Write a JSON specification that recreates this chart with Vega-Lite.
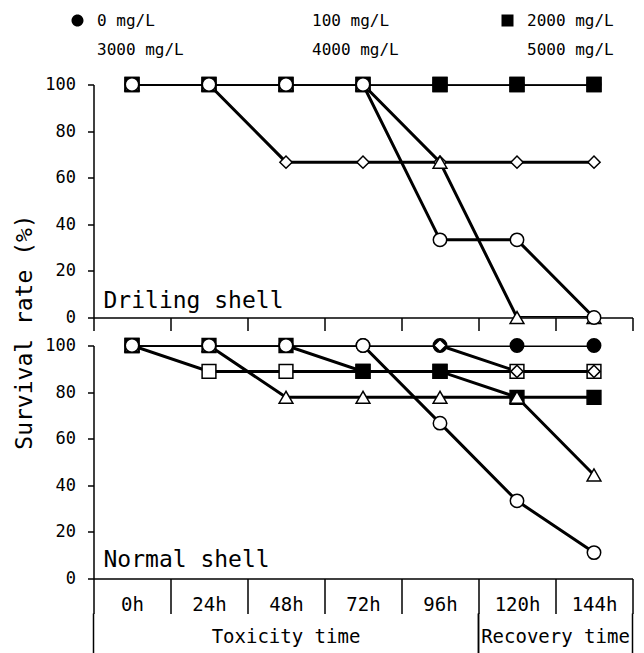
{
  "$schema": "https://vega.github.io/schema/vega-lite/v6.json",
  "padding": {"left": 13.5, "top": 12.5, "right": 5, "bottom": 0},
  "config": {
    "font": "DejaVu Sans Mono",
    "view": {"stroke": null},
    "axis": {"domainColor": "black", "domainWidth": 1.5, "tickColor": "black", "tickWidth": 1.5, "labelColor": "black", "titleColor": "black", "grid": false, "labelFont": "DejaVu Sans Mono", "titleFont": "DejaVu Sans Mono", "titleFontWeight": "normal"},
    "legend": {"title": null, "orient": "none", "legendX": -24, "legendY": -72, "direction": "horizontal", "columns": 3, "columnPadding": 88, "rowPadding": 11, "labelOffset": 11.5, "labelFontSize": 16, "labelFont": "DejaVu Sans Mono", "labelColor": "black", "symbolSize": 144, "symbolStrokeWidth": 2, "symbolStrokeColor": "black", "padding": 0},
    "point": {"filled": true, "stroke": "black", "strokeWidth": 1.5, "size": 180, "opacity": 1},
    "text": {"font": "DejaVu Sans Mono", "color": "black"}
  },
  "datasets": {
    "survival": [
      {"panel": "Driling shell", "series": "0 mg/L", "hour": 0, "rate": 100},
      {"panel": "Driling shell", "series": "0 mg/L", "hour": 24, "rate": 100},
      {"panel": "Driling shell", "series": "0 mg/L", "hour": 48, "rate": 100},
      {"panel": "Driling shell", "series": "0 mg/L", "hour": 72, "rate": 100},
      {"panel": "Driling shell", "series": "0 mg/L", "hour": 96, "rate": 100},
      {"panel": "Driling shell", "series": "0 mg/L", "hour": 120, "rate": 100},
      {"panel": "Driling shell", "series": "0 mg/L", "hour": 144, "rate": 100},
      {"panel": "Driling shell", "series": "100 mg/L", "hour": 0, "rate": 100},
      {"panel": "Driling shell", "series": "100 mg/L", "hour": 24, "rate": 100},
      {"panel": "Driling shell", "series": "100 mg/L", "hour": 48, "rate": 100},
      {"panel": "Driling shell", "series": "100 mg/L", "hour": 72, "rate": 100},
      {"panel": "Driling shell", "series": "100 mg/L", "hour": 96, "rate": 100},
      {"panel": "Driling shell", "series": "100 mg/L", "hour": 120, "rate": 100},
      {"panel": "Driling shell", "series": "100 mg/L", "hour": 144, "rate": 100},
      {"panel": "Driling shell", "series": "2000 mg/L", "hour": 0, "rate": 100},
      {"panel": "Driling shell", "series": "2000 mg/L", "hour": 24, "rate": 100},
      {"panel": "Driling shell", "series": "2000 mg/L", "hour": 48, "rate": 100},
      {"panel": "Driling shell", "series": "2000 mg/L", "hour": 72, "rate": 100},
      {"panel": "Driling shell", "series": "2000 mg/L", "hour": 96, "rate": 100},
      {"panel": "Driling shell", "series": "2000 mg/L", "hour": 120, "rate": 100},
      {"panel": "Driling shell", "series": "2000 mg/L", "hour": 144, "rate": 100},
      {"panel": "Driling shell", "series": "3000 mg/L", "hour": 0, "rate": 100},
      {"panel": "Driling shell", "series": "3000 mg/L", "hour": 24, "rate": 100},
      {"panel": "Driling shell", "series": "3000 mg/L", "hour": 48, "rate": 66.67},
      {"panel": "Driling shell", "series": "3000 mg/L", "hour": 72, "rate": 66.67},
      {"panel": "Driling shell", "series": "3000 mg/L", "hour": 96, "rate": 66.67},
      {"panel": "Driling shell", "series": "3000 mg/L", "hour": 120, "rate": 66.67},
      {"panel": "Driling shell", "series": "3000 mg/L", "hour": 144, "rate": 66.67},
      {"panel": "Driling shell", "series": "4000 mg/L", "hour": 0, "rate": 100},
      {"panel": "Driling shell", "series": "4000 mg/L", "hour": 24, "rate": 100},
      {"panel": "Driling shell", "series": "4000 mg/L", "hour": 48, "rate": 100},
      {"panel": "Driling shell", "series": "4000 mg/L", "hour": 72, "rate": 100},
      {"panel": "Driling shell", "series": "4000 mg/L", "hour": 96, "rate": 66.67},
      {"panel": "Driling shell", "series": "4000 mg/L", "hour": 120, "rate": 0},
      {"panel": "Driling shell", "series": "4000 mg/L", "hour": 144, "rate": 0},
      {"panel": "Driling shell", "series": "5000 mg/L", "hour": 0, "rate": 100},
      {"panel": "Driling shell", "series": "5000 mg/L", "hour": 24, "rate": 100},
      {"panel": "Driling shell", "series": "5000 mg/L", "hour": 48, "rate": 100},
      {"panel": "Driling shell", "series": "5000 mg/L", "hour": 72, "rate": 100},
      {"panel": "Driling shell", "series": "5000 mg/L", "hour": 96, "rate": 33.33},
      {"panel": "Driling shell", "series": "5000 mg/L", "hour": 120, "rate": 33.33},
      {"panel": "Driling shell", "series": "5000 mg/L", "hour": 144, "rate": 0},
      {"panel": "Normal shell", "series": "0 mg/L", "hour": 0, "rate": 100},
      {"panel": "Normal shell", "series": "0 mg/L", "hour": 24, "rate": 100},
      {"panel": "Normal shell", "series": "0 mg/L", "hour": 48, "rate": 100},
      {"panel": "Normal shell", "series": "0 mg/L", "hour": 72, "rate": 100},
      {"panel": "Normal shell", "series": "0 mg/L", "hour": 96, "rate": 100},
      {"panel": "Normal shell", "series": "0 mg/L", "hour": 120, "rate": 100},
      {"panel": "Normal shell", "series": "0 mg/L", "hour": 144, "rate": 100},
      {"panel": "Normal shell", "series": "100 mg/L", "hour": 0, "rate": 100},
      {"panel": "Normal shell", "series": "100 mg/L", "hour": 24, "rate": 88.89},
      {"panel": "Normal shell", "series": "100 mg/L", "hour": 48, "rate": 88.89},
      {"panel": "Normal shell", "series": "100 mg/L", "hour": 72, "rate": 88.89},
      {"panel": "Normal shell", "series": "100 mg/L", "hour": 96, "rate": 88.89},
      {"panel": "Normal shell", "series": "100 mg/L", "hour": 120, "rate": 88.89},
      {"panel": "Normal shell", "series": "100 mg/L", "hour": 144, "rate": 88.89},
      {"panel": "Normal shell", "series": "2000 mg/L", "hour": 0, "rate": 100},
      {"panel": "Normal shell", "series": "2000 mg/L", "hour": 24, "rate": 100},
      {"panel": "Normal shell", "series": "2000 mg/L", "hour": 48, "rate": 100},
      {"panel": "Normal shell", "series": "2000 mg/L", "hour": 72, "rate": 88.89},
      {"panel": "Normal shell", "series": "2000 mg/L", "hour": 96, "rate": 88.89},
      {"panel": "Normal shell", "series": "2000 mg/L", "hour": 120, "rate": 77.78},
      {"panel": "Normal shell", "series": "2000 mg/L", "hour": 144, "rate": 77.78},
      {"panel": "Normal shell", "series": "3000 mg/L", "hour": 0, "rate": 100},
      {"panel": "Normal shell", "series": "3000 mg/L", "hour": 24, "rate": 100},
      {"panel": "Normal shell", "series": "3000 mg/L", "hour": 48, "rate": 100},
      {"panel": "Normal shell", "series": "3000 mg/L", "hour": 72, "rate": 100},
      {"panel": "Normal shell", "series": "3000 mg/L", "hour": 96, "rate": 100},
      {"panel": "Normal shell", "series": "3000 mg/L", "hour": 120, "rate": 88.89},
      {"panel": "Normal shell", "series": "3000 mg/L", "hour": 144, "rate": 88.89},
      {"panel": "Normal shell", "series": "4000 mg/L", "hour": 0, "rate": 100},
      {"panel": "Normal shell", "series": "4000 mg/L", "hour": 24, "rate": 100},
      {"panel": "Normal shell", "series": "4000 mg/L", "hour": 48, "rate": 77.78},
      {"panel": "Normal shell", "series": "4000 mg/L", "hour": 72, "rate": 77.78},
      {"panel": "Normal shell", "series": "4000 mg/L", "hour": 96, "rate": 77.78},
      {"panel": "Normal shell", "series": "4000 mg/L", "hour": 120, "rate": 77.78},
      {"panel": "Normal shell", "series": "4000 mg/L", "hour": 144, "rate": 44.44},
      {"panel": "Normal shell", "series": "5000 mg/L", "hour": 0, "rate": 100},
      {"panel": "Normal shell", "series": "5000 mg/L", "hour": 24, "rate": 100},
      {"panel": "Normal shell", "series": "5000 mg/L", "hour": 48, "rate": 100},
      {"panel": "Normal shell", "series": "5000 mg/L", "hour": 72, "rate": 100},
      {"panel": "Normal shell", "series": "5000 mg/L", "hour": 96, "rate": 66.67},
      {"panel": "Normal shell", "series": "5000 mg/L", "hour": 120, "rate": 33.33},
      {"panel": "Normal shell", "series": "5000 mg/L", "hour": 144, "rate": 11.11}
    ],
    "phases": [
      {"phase": "Toxicity time", "first": 0, "last": 96},
      {"phase": "Recovery time", "first": 120, "last": 144}
    ]
  },
  "bounds": "flush",
  "spacing": 28,
  "vconcat": [
    {
      "width": 539,
      "height": 233,
      "data": {"name": "survival"},
      "transform": [{"filter": "datum.panel === 'Driling shell'"}],
      "encoding": {
        "x": {"field": "hour", "type": "ordinal", "scale": {"type": "band", "domain": [0, 24, 48, 72, 96, 120, 144], "paddingInner": 0, "paddingOuter": 0}, "axis": {"title": null, "labels": false, "tickBand": "extent", "tickSize": 13}},
        "y": {"field": "rate", "type": "quantitative", "scale": {"domain": [0, 100], "nice": false}, "axis": {"values": [0, 20, 40, 60, 80, 100], "tickSize": 6, "labelPadding": 12, "labelFontSize": 17, "title": "Survival rate (%)", "titleFontSize": 23, "titleAngle": -90, "titleX": -69, "titleY": 247, "titleAlign": "center", "titleBaseline": "middle"}}
      },
      "layer": [
        {
          "mark": {"type": "line", "color": "black", "strokeWidth": 3, "clip": true},
          "encoding": {"detail": {"field": "series"}}
        },
        {
          "transform": [{"filter": "datum.rate < 0"}],
          "mark": {"type": "point", "filled": true, "stroke": "black", "strokeWidth": 2},
          "encoding": {
            "shape": {"field": "series", "type": "nominal", "scale": {"domain": ["0 mg/L", "100 mg/L", "2000 mg/L", "3000 mg/L", "4000 mg/L", "5000 mg/L"], "range": ["M-2.75,0H-1M1,0H2.75M-1,0A1,1,0,1,0,1,0A1,1,0,1,0,-1,0Z", "M-2.75,0H-1M1,0H2.75M-1,-1H1V1H-1Z", "M-2.75,0H-1M1,0H2.75M-1,-1H1V1H-1Z", "M-2.75,0H-0.85M0.85,0H2.75M-0.85,0L0,-0.85L0.85,0L0,0.85Z", "M-2.75,0H-0.55M0.55,0H2.75M0,-0.95L1,0.8L-1,0.8Z", "M-2.75,0H-1M1,0H2.75M-1,0A1,1,0,1,0,1,0A1,1,0,1,0,-1,0Z"]},
              "legend": {"encode": {"symbols": {"stroke": {"value": "black"}, "strokeWidth": {"value": 2}}}}},
            "fill": {"field": "series", "type": "nominal", "scale": {"domain": ["0 mg/L", "100 mg/L", "2000 mg/L", "3000 mg/L", "4000 mg/L", "5000 mg/L"], "range": ["black", "white", "black", "white", "white", "white"]},
              "legend": {"encode": {"symbols": {"stroke": {"value": "black"}, "strokeWidth": {"value": 2}}}}}
          }
        },
        {
          "transform": [{"filter": "datum.series === '0 mg/L'"}],
          "mark": {"type": "point", "shape": "circle", "filled": true, "stroke": "black", "strokeWidth": 1.5},
          "encoding": {"fill": {"field": "series", "type": "nominal"}}
        },
        {
          "transform": [{"filter": "datum.series === '100 mg/L' || datum.series === '2000 mg/L'"}],
          "mark": {"type": "point", "shape": "square", "size": 190, "filled": true, "stroke": "black", "strokeWidth": 1.5},
          "encoding": {"fill": {"field": "series", "type": "nominal"}}
        },
        {
          "transform": [{"filter": "datum.series === '3000 mg/L'"}],
          "mark": {"type": "point", "shape": "diamond", "size": 150, "filled": true, "stroke": "black", "strokeWidth": 1.5},
          "encoding": {"fill": {"field": "series", "type": "nominal"}}
        },
        {
          "transform": [{"filter": "datum.series === '4000 mg/L'"}],
          "mark": {"type": "point", "shape": "triangle-up", "size": 190, "filled": true, "stroke": "black", "strokeWidth": 1.5},
          "encoding": {"fill": {"field": "series", "type": "nominal"}}
        },
        {
          "transform": [{"filter": "datum.series === '5000 mg/L'"}],
          "mark": {"type": "point", "shape": "circle", "filled": true, "stroke": "black", "strokeWidth": 1.5},
          "encoding": {"fill": {"field": "series", "type": "nominal"}}
        },
        {
          "transform": [{"filter": "datum.hour === 0 && datum.series === '0 mg/L'"}],
          "mark": {"type": "text", "align": "left", "baseline": "alphabetic", "dx": 10, "dy": -10, "fontSize": 23},
          "encoding": {
            "text": {"field": "panel"},
            "x": {"field": "hour", "type": "ordinal", "bandPosition": 0},
            "y": {"datum": 0, "type": "quantitative"}
          }
        }
      ]
    },
    {
      "bounds": "flush",
      "spacing": 35,
      "vconcat": [
        {
          "width": 539,
          "height": 233,
          "data": {"name": "survival"},
          "transform": [{"filter": "datum.panel === 'Normal shell'"}],
          "encoding": {
            "x": {"field": "hour", "type": "ordinal", "scale": {"type": "band", "domain": [0, 24, 48, 72, 96, 120, 144], "paddingInner": 0, "paddingOuter": 0}, "axis": {"title": null, "labelExpr": "datum.label ? datum.label + 'h' : ''", "labelAngle": 0, "tickBand": "extent", "tickSize": 35, "labelPadding": -18, "labelFontSize": 19}},
            "y": {"field": "rate", "type": "quantitative", "scale": {"domain": [0, 100], "nice": false}, "axis": {"values": [0, 20, 40, 60, 80, 100], "tickSize": 6, "labelPadding": 12, "labelFontSize": 17, "title": null}}
          },
          "layer": [
            {
              "mark": {"type": "line", "color": "black", "strokeWidth": 3, "clip": true},
              "encoding": {"detail": {"field": "series"}}
            },
            {
              "transform": [{"filter": "datum.series === '0 mg/L'"}],
              "mark": {"type": "point", "shape": "circle", "filled": true, "stroke": "black", "strokeWidth": 1.5},
              "encoding": {"fill": {"field": "series", "type": "nominal"}}
            },
            {
              "transform": [{"filter": "datum.series === '100 mg/L' || datum.series === '2000 mg/L'"}],
              "mark": {"type": "point", "shape": "square", "size": 190, "filled": true, "stroke": "black", "strokeWidth": 1.5},
              "encoding": {"fill": {"field": "series", "type": "nominal"}}
            },
            {
              "transform": [{"filter": "datum.series === '3000 mg/L'"}],
              "mark": {"type": "point", "shape": "diamond", "size": 150, "filled": true, "stroke": "black", "strokeWidth": 1.5},
              "encoding": {"fill": {"field": "series", "type": "nominal"}}
            },
            {
              "transform": [{"filter": "datum.series === '4000 mg/L'"}],
              "mark": {"type": "point", "shape": "triangle-up", "size": 190, "filled": true, "stroke": "black", "strokeWidth": 1.5},
              "encoding": {"fill": {"field": "series", "type": "nominal"}}
            },
            {
              "transform": [{"filter": "datum.series === '5000 mg/L'"}],
              "mark": {"type": "point", "shape": "circle", "filled": true, "stroke": "black", "strokeWidth": 1.5},
              "encoding": {"fill": {"field": "series", "type": "nominal"}}
            },
            {
              "transform": [{"filter": "datum.hour === 0 && datum.series === '0 mg/L'"}],
              "mark": {"type": "text", "align": "left", "baseline": "alphabetic", "dx": 10, "dy": -12, "fontSize": 23},
              "encoding": {
                "text": {"field": "panel"},
                "x": {"field": "hour", "type": "ordinal", "bandPosition": 0},
                "y": {"datum": 0, "type": "quantitative"}
              }
            }
          ]
        },
        {
          "width": 539,
          "height": 40,
          "data": {"name": "phases"},
          "layer": [
            {
              "mark": {"type": "rule", "color": "black", "strokeWidth": 1.5},
              "encoding": {"x": {"field": "first", "type": "ordinal", "bandPosition": 0, "scale": {"type": "band", "domain": [0, 24, 48, 72, 96, 120, 144], "paddingInner": 0, "paddingOuter": 0}, "axis": null}}
            },
            {
              "mark": {"type": "rule", "color": "black", "strokeWidth": 1.5},
              "encoding": {"x": {"field": "last", "type": "ordinal", "bandPosition": 1, "scale": {"type": "band", "domain": [0, 24, 48, 72, 96, 120, 144], "paddingInner": 0, "paddingOuter": 0}, "axis": null}}
            },
            {
              "transform": [{"filter": "datum.phase === 'Toxicity time'"}],
              "mark": {"type": "text", "fontSize": 19, "baseline": "middle", "dy": 3},
              "encoding": {"text": {"field": "phase"}, "x": {"datum": 48, "type": "ordinal", "bandPosition": 0.5, "axis": null}}
            },
            {
              "transform": [{"filter": "datum.phase === 'Recovery time'"}],
              "mark": {"type": "text", "fontSize": 19, "baseline": "middle", "dy": 3},
              "encoding": {"text": {"field": "phase"}, "x": {"datum": 120, "type": "ordinal", "bandPosition": 1, "axis": null}}
            }
          ]
        }
      ]
    }
  ]
}
